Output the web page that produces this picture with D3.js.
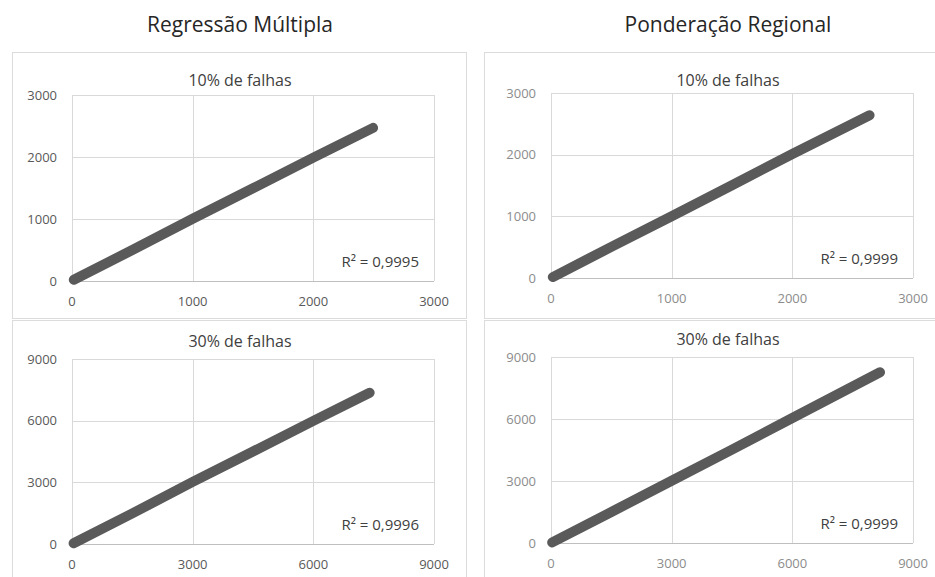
<!DOCTYPE html>
<html>
<meta charset="utf-8">
<style>
body {
  margin: 0;
  background: #fff;
}
.main-title {
  font-family: "Open Sans", sans-serif;
  font-size: 21px;
  fill: #262626;
  text-anchor: middle;
}
.sub-title {
  font-family: "Open Sans", sans-serif;
  font-size: 16px;
  fill: #404040;
  text-anchor: middle;
}
.tick-label {
  font-family: "Open Sans", sans-serif;
  font-size: 13px;
}
.r2 {
  font-family: "Open Sans", sans-serif;
  font-size: 15px;
  fill: #404040;
  text-anchor: end;
}
.box {
  fill: none;
  stroke: #dcdcdc;
}
.grid {
  stroke: #d9d9d9;
  stroke-width: 1;
}
.series {
  fill: none;
  stroke: #5a5a5a;
  stroke-width: 10;
  stroke-linecap: round;
  stroke-linejoin: round;
}
</style>
<body>
<script src="https://cdn.jsdelivr.net/npm/d3@7"></script>
<script>

// column titles and panel titles
var columnTitles = ["Regressão Múltipla", "Ponderação Regional"];
var panelTitles = ["10% de falhas", "30% de falhas"];

// axis ticks
var ticks10 = [0, 1000, 2000, 3000];
var ticks30 = [0, 3000, 6000, 9000];

// R² values
var r2Labels = ["R² = 0,9995", "R² = 0,9996", "R² = 0,9999", "R² = 0,9999"];

var regressao10 = [[15, 20], [500, 500], [1000, 1005], [1500, 1495], [2000, 1990], [2495, 2470]];
var regressao30 = [[40, 40], [1500, 1490], [3000, 3020], [4500, 4500], [6000, 5990], [7400, 7360]];
var ponderacao10 = [[15, 15], [500, 505], [1000, 1000], [1500, 1505], [2000, 2010], [2640, 2640]];
var ponderacao30 = [[30, 30], [1500, 1500], [3000, 3010], [4500, 4520], [6000, 6050], [8180, 8260]];

var svg = d3.select("body").append("svg")
    .attr("width", 935)
    .attr("height", 577);

// outer boxes
svg.append("rect").attr("class", "box").attr("x", 12.5).attr("y", 52.5).attr("width", 454).attr("height", 266);
svg.append("rect").attr("class", "box").attr("x", 12.5).attr("y", 320.5).attr("width", 454).attr("height", 270);
svg.append("rect").attr("class", "box").attr("x", 484.5).attr("y", 52.5).attr("width", 460).attr("height", 266);
svg.append("rect").attr("class", "box").attr("x", 484.5).attr("y", 320.5).attr("width", 460).attr("height", 270);

svg.selectAll(".main-title")
  .data(columnTitles)
  .enter()
  .append("text")
  .attr("class", "main-title")
  .attr("x", function(d, i) { return i == 0 ? 240 : 728; })
  .attr("y", 32)
  .text(function(d) { return d; });

var panels = [
  {data: regressao10, ticks: ticks10, title: panelTitles[0], r2: r2Labels[0], left: 72, right: 434, top: 95, bottom: 281, cx: 240, ty: 86, color: "#595959"},
  {data: regressao30, ticks: ticks30, title: panelTitles[1], r2: r2Labels[1], left: 72, right: 434, top: 359, bottom: 544, cx: 240, ty: 347, color: "#595959"},
  {data: ponderacao10, ticks: ticks10, title: panelTitles[0], r2: r2Labels[2], left: 551, right: 913, top: 93, bottom: 278, cx: 728, ty: 86, color: "#8c8c8c"},
  {data: ponderacao30, ticks: ticks30, title: panelTitles[1], r2: r2Labels[3], left: 551, right: 913, top: 357, bottom: 543, cx: 728, ty: 345, color: "#8c8c8c"}
];

panels.forEach(function(p) {
  var max = p.ticks[p.ticks.length - 1];
  var x = d3.scaleLinear().domain([0, max]).range([p.left, p.right]);
  var y = d3.scaleLinear().domain([0, max]).range([p.bottom, p.top]);
  var g = svg.append("g");

  g.append("text")
    .attr("class", "sub-title")
    .attr("x", p.cx)
    .attr("y", p.ty)
    .text(p.title);

  // gridlines
  g.selectAll(".hgrid")
    .data(p.ticks)
    .enter()
    .append("line")
    .attr("class", "grid")
    .attr("x1", p.left).attr("x2", p.right)
    .attr("y1", function(d) { return Math.round(y(d)) + 0.5; })
    .attr("y2", function(d) { return Math.round(y(d)) + 0.5; })
    .style("stroke", function(d) { return d == 0 ? "#bfbfbf" : null; });

  g.selectAll(".vgrid")
    .data(p.ticks)
    .enter()
    .append("line")
    .attr("class", "grid")
    .attr("y1", p.top).attr("y2", p.bottom)
    .attr("x1", function(d) { return Math.round(x(d)) + 0.5; })
    .attr("x2", function(d) { return Math.round(x(d)) + 0.5; });

  // tick labels
  g.selectAll(".ylab")
    .data(p.ticks)
    .enter()
    .append("text")
    .attr("class", "tick-label")
    .attr("x", p.left - 15)
    .attr("y", function(d) { return y(d); })
    .attr("dy", "0.35em")
    .attr("text-anchor", "end")
    .style("fill", p.color)
    .text(function(d) { return d; });

  g.selectAll(".xlab")
    .data(p.ticks)
    .enter()
    .append("text")
    .attr("class", "tick-label")
    .attr("x", function(d) { return x(d); })
    .attr("y", p.bottom + 20)
    .attr("dy", "0.35em")
    .attr("text-anchor", "middle")
    .style("fill", p.color)
    .text(function(d) { return d; });

  // the series
  var line = d3.line()
    .x(function(d) { return x(d[0]); })
    .y(function(d) { return y(d[1]); });

  g.append("path")
    .datum(p.data)
    .attr("class", "series")
    .attr("d", line);

  g.append("text")
    .attr("class", "r2")
    .attr("x", p.right - 15)
    .attr("y", p.bottom - 19)
    .attr("dy", "0.35em")
    .text(p.r2);
});

</script>
</body>
</html>
